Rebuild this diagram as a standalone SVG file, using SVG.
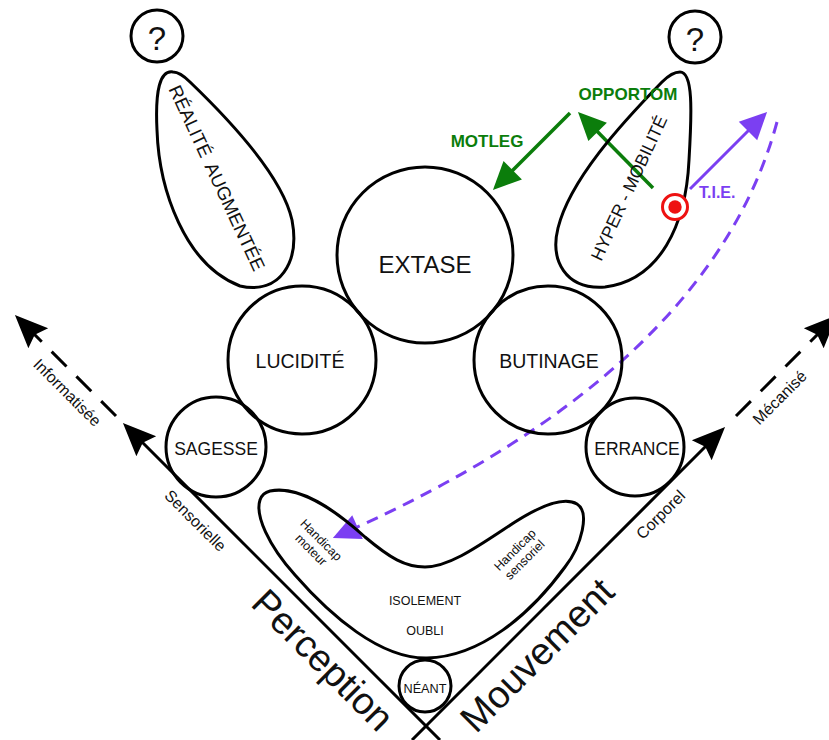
<svg xmlns="http://www.w3.org/2000/svg" width="829" height="740" viewBox="0 0 829 740">
<style>
  text { font-family: "Liberation Sans", Arial, Helvetica, sans-serif; fill: #111; text-anchor: middle; }
  .node { fill: none; stroke: #000; stroke-width: 3; }
  .axis { fill: none; stroke: #000; stroke-width: 3; }
  .axisdash { fill: none; stroke: #000; stroke-width: 3; stroke-dasharray: 21 14; }
  .green { fill: none; stroke: #0b7d0b; stroke-width: 3.5; }
  .purple { fill: none; stroke: #7b3ff2; stroke-width: 3; }
  .pdash { fill: none; stroke: #7b3ff2; stroke-width: 3; stroke-dasharray: 12 8; }
  .glbl { fill: #0b7d0b; font-weight: bold; font-size: 17px; }
  .plbl { fill: #7b3ff2; font-weight: bold; font-size: 16px; text-anchor: start; }
  .axlbl { font-size: 16px; }
  .big { font-size: 38px; }
  .small { font-size: 12.5px; }
</style>
<defs>
  <marker id="ahBlack" markerUnits="userSpaceOnUse" viewBox="-36 -16 40 32" markerWidth="40" markerHeight="32" refX="-10" refY="0" orient="auto">
    <path d="M0,0 L-33,-14 L-28,0 L-33,14 Z" fill="#000"/>
  </marker>
  <marker id="ahGreen" markerUnits="userSpaceOnUse" viewBox="-32 -16 36 32" markerWidth="36" markerHeight="32" refX="-10" refY="0" orient="auto">
    <path d="M0,0 L-28,-13 L-28,13 Z" fill="#0b7d0b"/>
  </marker>
  <marker id="ahPurple" markerUnits="userSpaceOnUse" viewBox="-32 -16 36 32" markerWidth="36" markerHeight="32" refX="-10" refY="0" orient="auto">
    <path d="M0,0 L-27,-13 L-27,13 Z" fill="#7b3ff2"/>
  </marker>
</defs>
<rect width="829" height="740" fill="#fff"/>

<g id="connectors">
  <!-- axes -->
  <path class="axis" d="M440,740 L130,430" marker-end="url(#ahBlack)"/>
  <path class="axis" d="M412,740 L718,434" marker-end="url(#ahBlack)"/>
  <path class="axisdash" d="M116,416 L22,322" marker-end="url(#ahBlack)"/>
  <path class="axisdash" d="M736,416 L830,322" marker-end="url(#ahBlack)"/>
  <!-- green arrows -->
  <path class="green" d="M570,113 L500,183" marker-end="url(#ahGreen)"/>
  <path class="green" d="M653,188 L585,119" marker-end="url(#ahGreen)"/>
  <!-- purple arrows -->
  <path class="purple" d="M690,189 L760,119" marker-end="url(#ahPurple)"/>
  <path class="pdash" d="M777,122 Q710,370 342,534" marker-end="url(#ahPurple)"/>
</g>

<g id="axis-labels">
  <text class="axlbl" transform="translate(67,393) rotate(45)" y="5">Informatisée</text>
  <text class="axlbl" transform="translate(195,521) rotate(45)" y="5">Sensorielle</text>
  <text class="axlbl" transform="translate(661,515) rotate(-45)" y="5">Corporel</text>
  <text class="axlbl" transform="translate(780,398) rotate(-45)" y="5">Mécanisé</text>
  <text class="big" transform="translate(323,660) rotate(45)" y="13">Perception</text>
  <text class="big" transform="translate(537,655) rotate(-45)" y="13">Mouvement</text>
</g>

<g id="q-left">
  <circle class="node" cx="157" cy="36" r="26"/>
  <text x="157" y="50" font-size="33">?</text>
</g>
<g id="q-right">
  <circle class="node" cx="695" cy="37" r="26"/>
  <text x="695" y="51" font-size="33">?</text>
</g>

<g id="realite-augmentee">
  <path class="node" d="M173,72 C160,70 155,90 157,130 C159,190 185,265 240,286 C280,295 300,262 292,220 C283,180 240,130 190,82 C183,75 178,72 173,72 Z"/>
  <text transform="translate(217,178) rotate(65)" y="6.5" font-size="18.5">RÉALITÉ<tspan dx="8">AUGMENTÉE</tspan></text>
</g>

<g id="hyper-mobilite">
  <path class="node" d="M680,72 C693,72 692,110 689,160 C686,225 660,280 605,287 C565,290 550,260 558,228 C570,180 620,125 662,82 C668,76 674,72 680,72 Z"/>
  <text transform="translate(629,188) rotate(-65)" y="6" font-size="17.5">HYPER - MOBILITÉ</text>
</g>

<g id="target">
  <circle cx="675" cy="207" r="12.5" fill="#fff" stroke="#ee1111" stroke-width="3"/>
  <circle cx="675" cy="207" r="6.7" fill="#ee1111"/>
</g>

<g id="extase">
  <circle class="node" cx="425" cy="255" r="88"/>
  <text x="425" y="273" font-size="24">EXTASE</text>
</g>
<g id="lucidite">
  <circle class="node" cx="302" cy="360" r="74"/>
  <text x="300" y="368" font-size="19.5">LUCIDITÉ</text>
</g>
<g id="butinage">
  <circle class="node" cx="548" cy="360" r="74"/>
  <text x="549" y="368" font-size="19.5">BUTINAGE</text>
</g>
<g id="sagesse">
  <circle class="node" cx="216" cy="447" r="50"/>
  <text x="216" y="455" font-size="17.5">SAGESSE</text>
</g>
<g id="errance">
  <circle class="node" cx="635" cy="447" r="49"/>
  <text x="637" y="455" font-size="17.5">ERRANCE</text>
</g>

<g id="boomerang">
  <path class="node" d="M270,491 C300,485 335,510 365,537 C390,558 405,567 425,567 C450,567 480,545 515,522 C545,503 565,497 577,504 C590,512 582,545 565,567 C530,615 480,657 427,658 C380,659 330,615 295,575 C268,545 255,515 260,500 C262,494 266,492 270,491 Z"/>
  <text class="small" transform="translate(316,545) rotate(45)"><tspan x="0" y="-3">Handicap</tspan><tspan x="0" y="11">moteur</tspan></text>
  <text class="small" transform="translate(520,555) rotate(-45)"><tspan x="0" y="-3">Handicap</tspan><tspan x="0" y="11">sensoriel</tspan></text>
  <text class="small" x="425" y="605">ISOLEMENT</text>
  <text class="small" x="425" y="635">OUBLI</text>
</g>

<g id="neant">
  <circle class="node" cx="425" cy="686" r="26"/>
  <text x="425" y="693" font-size="12.7">NÉANT</text>
</g>

<g id="labels">
  <text class="glbl" x="487" y="147">MOTLEG</text>
  <text class="glbl" x="628" y="100">OPPORTOM</text>
  <text class="plbl" x="699" y="198">T.I.E.</text>
</g>
</svg>
